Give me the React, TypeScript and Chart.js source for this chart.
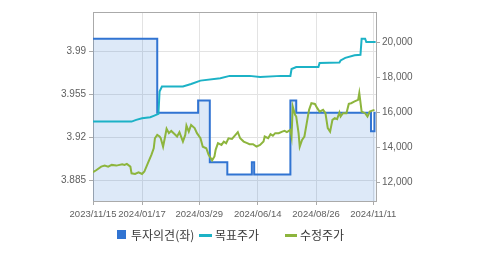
import { useEffect, useRef } from 'react';
import { Chart, registerables } from 'chart.js';

Chart.register(...registerables);

// x values are trading-day indices counted from 2023/11/15
const xTickIdx = [0, 42, 91, 141, 191, 240];
const xTickLabels = ['2023/11/15', '2024/01/17', '2024/03/29', '2024/06/14', '2024/08/26', '2024/11/11'];
const leftTicks = [3.885, 3.92, 3.955, 3.99];
const rightTicks = [12000, 14000, 16000, 18000, 20000];
const seriesNames = ['투자의견(좌)', '목표주가', '수정주가'];

// 투자의견 (left axis)
const opinion: [number, number][] = [
  [0, 4.0], [55, 3.94], [90, 3.95], [100, 3.9], [115, 3.89], [136, 3.9], [138, 3.89],
  [169, 3.95], [174, 3.94], [238, 3.925], [241, 3.94], [242, 3.94],
];

// 목표주가 (right axis)
const target: [number, number][] = [
  [0, 15460], [33, 15460], [37, 15560], [42, 15650], [49, 15710], [52, 15790], [56, 15900],
  [57, 17180], [59, 17460], [77, 17460], [84, 17610], [92, 17800], [109, 17940], [117, 18070],
  [134, 18070], [143, 18000], [161, 18070], [169, 18070], [170, 18460], [174, 18570], [193, 18570],
  [194, 18800], [211, 18830], [212, 18950], [216, 19100], [224, 19250], [229, 19270], [230, 20190],
  [233, 20190], [234, 20000], [242, 20000],
];

// 수정주가 (right axis)
const price: [number, number][] = [
  [0, 12570], [3, 12700], [7, 12890], [10, 12950], [13, 12890], [16, 12990], [20, 12950], [25, 13030],
  [27, 12990], [29, 13050], [32, 12890], [33, 12510], [36, 12470], [39, 12570], [42, 12470], [44, 12610],
  [47, 13090], [50, 13560], [52, 13940], [53, 14510], [55, 14700], [57, 14610], [58, 14510], [60, 14030],
  [62, 14700], [63, 15050], [65, 14800], [67, 14930], [70, 14740], [72, 14610], [74, 14860], [77, 14320],
  [79, 14700], [80, 15230], [82, 14890], [84, 15270], [87, 15090], [89, 14800], [92, 14510], [94, 14030],
  [97, 13940], [99, 13560], [102, 13250], [104, 13470], [105, 13850], [107, 14230], [110, 14130],
  [112, 14320], [114, 14230], [116, 14510], [119, 14470], [122, 14700], [124, 14860], [126, 14510],
  [129, 14320], [132, 14230], [134, 14170], [137, 14170], [140, 14030], [143, 14130], [146, 14320],
  [147, 14610], [150, 14510], [152, 14740], [154, 14660], [156, 14800], [159, 14800], [162, 14890],
  [164, 14930], [166, 14860], [169, 14990], [170, 14610], [171, 16320], [173, 15850], [174, 15750],
  [176, 14800], [177, 14030], [179, 14420], [181, 14610], [183, 15370], [185, 16130], [187, 16510],
  [190, 16470], [192, 16230], [194, 16030], [197, 16130], [199, 15940], [201, 15090], [203, 14890],
  [205, 15560], [207, 15660], [209, 15600], [211, 15980], [212, 15750], [214, 15940], [217, 15940],
  [219, 16470], [221, 16510], [224, 16610], [227, 16700], [228, 17090], [230, 16030], [233, 15940],
  [235, 15750], [237, 16030], [239, 16090], [241, 16130],
];

const BLUE = '#3174d2';
const CYAN = '#1cb2c6';
const GREEN = '#8db53d';
const FONT_FAMILY = '"Liberation Sans", Arial, sans-serif';
const TICK_COLOR = '#606060';
const AXIS_COLOR = '#aaa';
const GRID_COLOR = '#e3e3e3';

const toXY = (a: [number, number][]) => a.map(([x, y]) => ({ x, y }));

const frameAndLegend = {
  id: 'frameAndLegend',
  afterDraw(chart: any) {
    const { ctx, chartArea } = chart;
    ctx.save();
    ctx.strokeStyle = AXIS_COLOR;
    ctx.lineWidth = 1;
    ctx.beginPath();
    ctx.moveTo(chartArea.left, chartArea.top + 0.5);
    ctx.lineTo(chartArea.right, chartArea.top + 0.5);
    ctx.stroke();

    const y = 235;
    ctx.font = '12px "Noto Sans CJK KR", sans-serif';
    ctx.textBaseline = 'middle';
    ctx.textAlign = 'left';
    ctx.fillStyle = BLUE;
    ctx.fillRect(117, 230, 9, 9);
    ctx.fillStyle = '#3a3a3a';
    ctx.fillText(seriesNames[0], 131, y);
    ctx.fillStyle = CYAN;
    ctx.fillRect(199, 234, 13, 3);
    ctx.fillStyle = '#3a3a3a';
    ctx.fillText(seriesNames[1], 215, y);
    ctx.fillStyle = GREEN;
    ctx.fillRect(285, 234, 12, 3);
    ctx.fillStyle = '#3a3a3a';
    ctx.fillText(seriesNames[2], 300, y);
    ctx.restore();
  },
};

export default function App() {
  const ref = useRef<HTMLCanvasElement>(null);

  useEffect(() => {
    if (!ref.current) return;
    const chart = new Chart(ref.current, {
      type: 'line',
      data: {
        datasets: [
          {
            label: seriesNames[0],
            data: toXY(opinion),
            yAxisID: 'yL',
            stepped: 'before',
            borderColor: BLUE,
            borderWidth: 2,
            backgroundColor: 'rgba(45,116,212,0.16)',
            fill: 'start',
            pointRadius: 0,
            order: 3,
          },
          {
            label: seriesNames[1],
            data: toXY(target),
            yAxisID: 'yR',
            borderColor: CYAN,
            borderWidth: 2,
            fill: false,
            pointRadius: 0,
            order: 2,
          },
          {
            label: seriesNames[2],
            data: toXY(price),
            yAxisID: 'yR',
            borderColor: GREEN,
            borderWidth: 2,
            fill: false,
            pointRadius: 0,
            order: 1,
          },
        ],
      } as any,
      options: {
        responsive: false,
        animation: false,
        devicePixelRatio: 1,
        layout: { padding: { top: 12, left: 0, right: 0, bottom: 0 } },
        plugins: { legend: { display: false }, tooltip: { enabled: false } },
        scales: {
          x: {
            type: 'linear',
            min: 0,
            max: 242.3,
            afterBuildTicks: (s: any) => { s.ticks = xTickIdx.map((v) => ({ value: v })); },
            afterFit: (s: any) => { s.height = 54; },
            ticks: {
              autoSkip: false,
              maxRotation: 0,
              padding: 4,
              font: { family: FONT_FAMILY, size: 9.5 },
              color: TICK_COLOR,
              callback: (_v: any, i: number) => xTickLabels[i],
            },
            grid: { color: GRID_COLOR, tickColor: AXIS_COLOR, tickLength: 4 },
            border: { color: AXIS_COLOR },
          },
          yL: {
            type: 'linear',
            position: 'left',
            min: 3.8685,
            max: 4.0217,
            afterBuildTicks: (s: any) => { s.ticks = leftTicks.map((v) => ({ value: v })); },
            afterFit: (s: any) => { s.width = 93; },
            ticks: {
              padding: 3,
              font: { family: FONT_FAMILY, size: 10 },
              color: TICK_COLOR,
              callback: (_v: any, i: number) => String(leftTicks[i]),
            },
            grid: { color: GRID_COLOR, tickColor: AXIS_COLOR, tickLength: 4 },
            border: { color: AXIS_COLOR },
          },
          yR: {
            type: 'linear',
            position: 'right',
            min: 10930,
            max: 21715,
            afterBuildTicks: (s: any) => { s.ticks = rightTicks.map((v) => ({ value: v })); },
            afterFit: (s: any) => { s.width = 103; },
            ticks: {
              padding: 2,
              font: { family: FONT_FAMILY, size: 10 },
              color: TICK_COLOR,
              callback: (_v: any, i: number) => rightTicks[i].toLocaleString('en-US'),
            },
            grid: { drawOnChartArea: false, tickColor: AXIS_COLOR, tickLength: 4 },
            border: { color: AXIS_COLOR },
          },
        },
      } as any,
      plugins: [frameAndLegend],
    });
    return () => chart.destroy();
  }, []);

  return (
    <div style={{ position: 'absolute', left: 0, top: 0, width: 479, height: 255, background: '#fff' }}>
      <canvas ref={ref} width={479} height={255} style={{ display: 'block' }} />
    </div>
  );
}
